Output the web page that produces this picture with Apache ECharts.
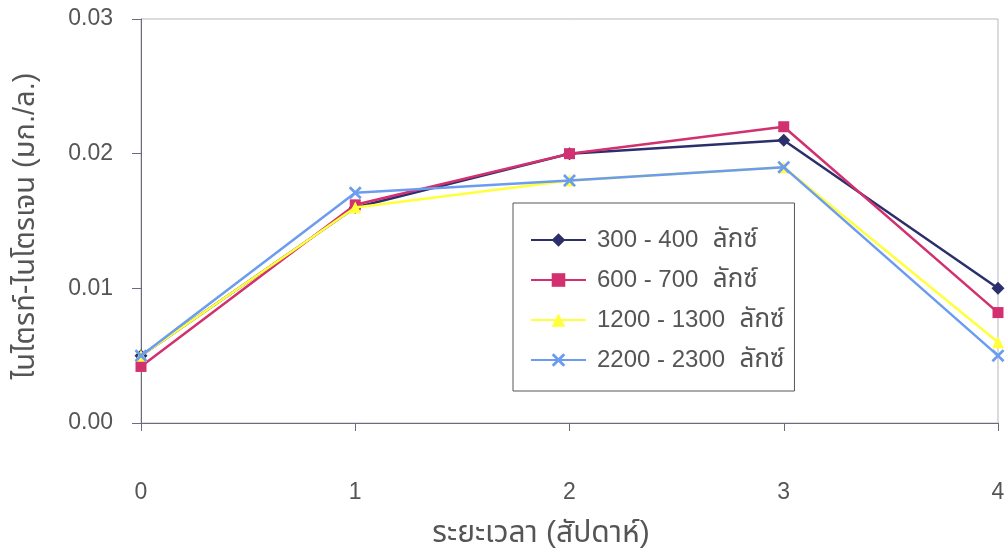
<!DOCTYPE html>
<html><head><meta charset="utf-8">
<script src="https://cdn.jsdelivr.net/npm/echarts@6/dist/echarts.min.js"></script>
<style>html,body{margin:0;padding:0;background:#fff}#c{width:1007px;height:556px}</style>
</head><body><div id="c"></div>
<script>
const weeks = [0, 1, 2, 3, 4];
const seriesNames = ['300 - 400', '600 - 700', '1200 - 1300', '2200 - 2300'];
const unit = 'ลักซ์';
const lux300 = [0.005, 0.016, 0.020, 0.021, 0.010];
const lux600 = [0.0042, 0.0162, 0.020, 0.022, 0.0082];
const lux1200 = [0.005, 0.016, 0.018, 0.019, 0.006];
const lux2200 = [0.005, 0.0171, 0.018, 0.019, 0.005];
const yTicks = [0, 0.01, 0.02, 0.03];
const xName = 'ระยะเวลา (สัปดาห์)';
const yName = 'ไนไตรท์-ไนโตรเจน (มก./ล.)';

const colors = ['#2b2f6b', '#d2306e', '#ffff3a', '#6b9cf0'];
const xSym = 'path://M0,1.5 L1.5,0 L5,3.5 L8.5,0 L10,1.5 L6.5,5 L10,8.5 L8.5,10 L5,6.5 L1.5,10 L0,8.5 L3.5,5 Z';
const symbols = ['diamond', 'rect', 'triangle', xSym];
const sizes = [13, 11, 12, 13];
const datasets = [lux300, lux600, lux1200, lux2200];
const font = '"Liberation Sans", Arial, "Noto Sans Thai", "Noto Sans", sans-serif';

const chart = echarts.init(document.getElementById('c'));
chart.setOption({
  animation: false,
  backgroundColor: '#ffffff',
  textStyle: { fontFamily: font },
  grid: { left: 141, right: 9, top: 19, bottom: 133, show: true, borderColor: '#b8b8c0', borderWidth: 1, outerBoundsMode: 'none', containLabel: false },
  legend: {
    orient: 'vertical', left: 513, top: 203,
    padding: [24, 10, 18, 17], itemGap: 14,
    borderColor: '#55555f', borderWidth: 1, backgroundColor: '#fff',
    itemWidth: 55, itemHeight: 17,
    formatter: n => '{d|' + n + '}{t|  ' + unit + '}',
    textStyle: {
      fontSize: 24, color: '#555', fontFamily: font, padding: [0, 0, 0, 6],
      rich: { d: { fontSize: 24, color: '#555' }, t: { fontSize: 26, color: '#555' } }
    },
    data: seriesNames
  },
  xAxis: {
    type: 'value', min: 0, max: 4, interval: 1,
    name: xName, nameLocation: 'middle', nameGap: 96,
    nameTextStyle: { fontSize: 30, color: '#555', fontFamily: font, padding: [0, 57, 0, 0] },
    axisLine: { onZero: false, lineStyle: { color: '#6a6a80', width: 1 } },
    axisTick: { show: true, length: 8, lineStyle: { color: '#6a6a80' } },
    axisLabel: { margin: 58, fontSize: 23, color: '#555' },
    splitLine: { show: false }
  },
  yAxis: {
    type: 'value', min: 0, max: 0.03, interval: 0.01,
    name: yName, nameLocation: 'middle', nameGap: 101, nameRotate: 90,
    nameTextStyle: { fontSize: 29, color: '#555', fontFamily: font, padding: [0, 10, 0, 0] },
    axisLine: { show: true, lineStyle: { color: '#6a6a80', width: 1 } },
    axisTick: { show: true, length: 9, lineStyle: { color: '#6a6a80' } },
    axisLabel: { margin: 28, fontSize: 23, color: '#555', formatter: v => v.toFixed(2) },
    splitLine: { show: false }
  },
  series: datasets.map((d, i) => ({
    name: seriesNames[i], type: 'line',
    data: weeks.map((w, j) => [w, d[j]]),
    symbol: symbols[i], symbolSize: sizes[i], showAllSymbol: true,
    lineStyle: { color: colors[i], width: 2.5 },
    itemStyle: { color: colors[i] },
    z: 2 + i
  }))
});
</script></body></html>
